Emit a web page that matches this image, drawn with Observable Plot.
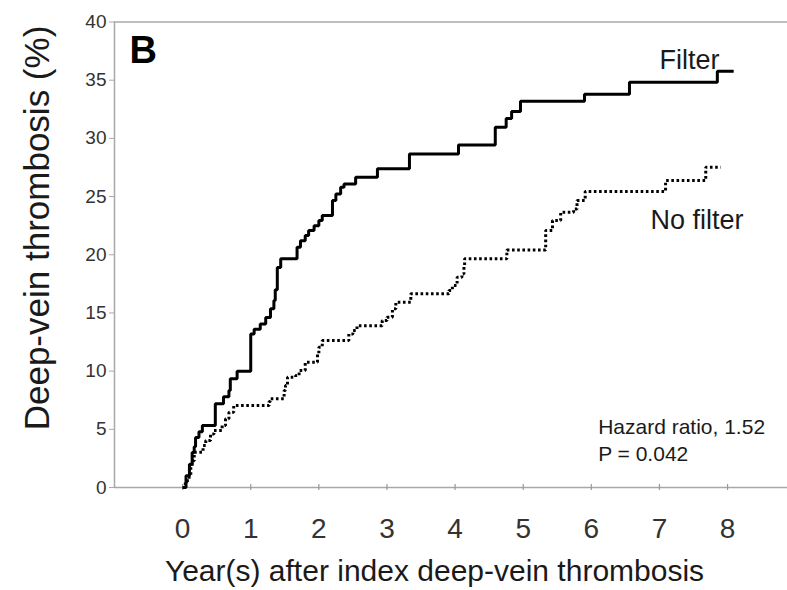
<!DOCTYPE html>
<html><head><meta charset="utf-8">
<script src="https://cdn.jsdelivr.net/npm/d3@7"></script>
<script src="https://cdn.jsdelivr.net/npm/@observablehq/plot@0.6"></script>
<style>
html,body{margin:0;padding:0;background:#fff;}
#chart svg{display:block;}
</style></head><body><div id="chart"></div>
<script>
// Filter group: cumulative incidence (%) — step-after points (years, %)
const filterYears = [0,0.05,0.10,0.14,0.17,0.19,0.24,0.29,0.48,0.60,0.68,0.70,0.80,1.00,1.05,1.14,1.22,1.29,1.34,1.36,1.39,1.44,1.68,1.73,1.80,1.85,1.93,2.00,2.05,2.20,2.25,2.32,2.37,2.54,2.86,3.33,4.05,4.59,4.75,4.83,4.96,5.90,6.56,7.85,8.09];
const filterPct   = [0,1.0,2.0,3.0,3.5,4.3,4.8,5.33,7.19,7.8,8.33,9.34,9.99,13.2,13.6,14.06,14.6,15.35,16.07,17.0,18.9,19.65,20.64,21.2,21.65,22.08,22.5,22.94,23.37,24.66,25.23,25.8,26.09,26.66,27.38,28.66,29.44,30.95,31.7,32.3,33.2,33.8,34.82,35.77,35.77];
// No-filter group
const noFilterYears = [0,0.04,0.07,0.12,0.14,0.17,0.30,0.34,0.41,0.46,0.58,0.63,0.68,0.75,1.27,1.29,1.49,1.51,1.54,1.66,1.71,1.80,1.98,2.00,2.05,2.44,2.50,2.56,2.93,3.00,3.08,3.13,3.35,3.91,3.96,4.03,4.10,4.13,4.14,4.76,5.33,5.43,5.55,5.74,5.79,5.91,7.09,7.68,7.90];
const noFilterPct   = [0,0.5,0.88,1.74,2.3,3.03,3.6,4.04,4.6,4.9,5.33,5.9,6.47,7.04,7.4,7.62,8.33,8.76,9.48,9.62,10.05,10.76,11.48,12.05,12.63,13.2,13.5,13.9,14.35,14.63,15.35,15.92,16.64,16.92,17.35,18.07,18.36,19.07,19.65,20.4,22.08,22.94,23.65,23.94,24.66,25.43,26.37,27.52,27.52];

const xTicks = [0,1,2,3,4,5,6,7,8];
const yTicks = [0,5,10,15,20,25,30,35,40];
const xDomain = [-1, 8.88];
const yDomain = [0, 40];

const seriesNames  = ["Filter", "No filter"];
const seriesLabelX = [7.0, 6.87];
const seriesLabelY = [36.0, 22.25];
const statsLines = ["Hazard ratio, 1.52", "P = 0.042"];
const statsX = [6.1, 6.1];
const statsY = [4.64, 2.32];
const panelLetter = "B";
const xTitle = "Year(s) after index deep-vein thrombosis";
const yTitle = "Deep-vein thrombosis (%)";

const filter = filterYears.map((t, i) => ({t, p: filterPct[i]}));
const noFilter = noFilterYears.map((t, i) => ({t, p: noFilterPct[i]}));
const seriesLabels = seriesNames.map((s, i) => ({s, x: seriesLabelX[i], y: seriesLabelY[i]}));
const stats = statsLines.map((s, i) => ({s, x: statsX[i], y: statsY[i]}));

const axisGray = "#a8a8a8";
const font = "'Liberation Sans', Arial, Helvetica, sans-serif";

const chart = Plot.plot({
  width: 787, height: 590,
  marginTop: 21.5, marginBottom: 103, marginLeft: 114, marginRight: 0,
  x: {domain: xDomain},
  y: {domain: yDomain},
  style: {fontFamily: font, background: "#fff", color: "#222"},
  marks: [
    Plot.ruleY([yDomain[1]], {stroke: axisGray, strokeWidth: 1.5}),
    Plot.ruleY([yDomain[0]], {stroke: axisGray, strokeWidth: 1.5}),
    Plot.ruleX([xDomain[0]], {stroke: axisGray, strokeWidth: 1.5}),
    Plot.ruleX(xTicks, {x: d => d, y1: 0, y2: 0, insetTop: -3, insetBottom: -3, stroke: "#999", strokeWidth: 1.2}),
    Plot.axisY({ticks: yTicks, tickSize: 5, tickPadding: 3, fontSize: 19, stroke: axisGray, fill: "#333", label: null}),
    Plot.axisX({ticks: xTicks, tickSize: 0, tickPadding: 31, fontSize: 28, fill: "#333", label: null}),
    Plot.line(noFilter, {x: "t", y: "p", curve: "step-after", stroke: "#000", strokeWidth: 3, strokeDasharray: "2.6,2.6", strokeLinecap: "butt", strokeLinejoin: "miter"}),
    Plot.line(filter, {x: "t", y: "p", curve: "step-after", stroke: "#000", strokeWidth: 3, strokeLinejoin: "miter", strokeLinecap: "butt"}),
    Plot.text(seriesLabels, {x: "x", y: "y", text: "s", textAnchor: "start", lineAnchor: "bottom", fontSize: 27, fill: "#1a1a1a"}),
    Plot.text(stats, {x: "x", y: "y", text: "s", textAnchor: "start", lineAnchor: "bottom", fontSize: 21, fill: "#1a1a1a"}),
    Plot.text([panelLetter], {frameAnchor: "top-left", text: d => d, textAnchor: "start", lineAnchor: "bottom", dx: 15, dy: 41, fontSize: 38, fontWeight: "bold", fill: "#000"}),
    Plot.text([yTitle], {frameAnchor: "left", text: d => d, rotate: -90, textAnchor: "middle", lineAnchor: "bottom", dx: -65.5, dy: -26.75, fontSize: 35, fill: "#1a1a1a"}),
    Plot.text([xTitle], {frameAnchor: "bottom", text: d => d, textAnchor: "middle", lineAnchor: "bottom", dx: -16.5, dy: 93, fontSize: 30, fill: "#1a1a1a"})
  ]
});
document.getElementById("chart").appendChild(chart);
</script>
</body></html>
